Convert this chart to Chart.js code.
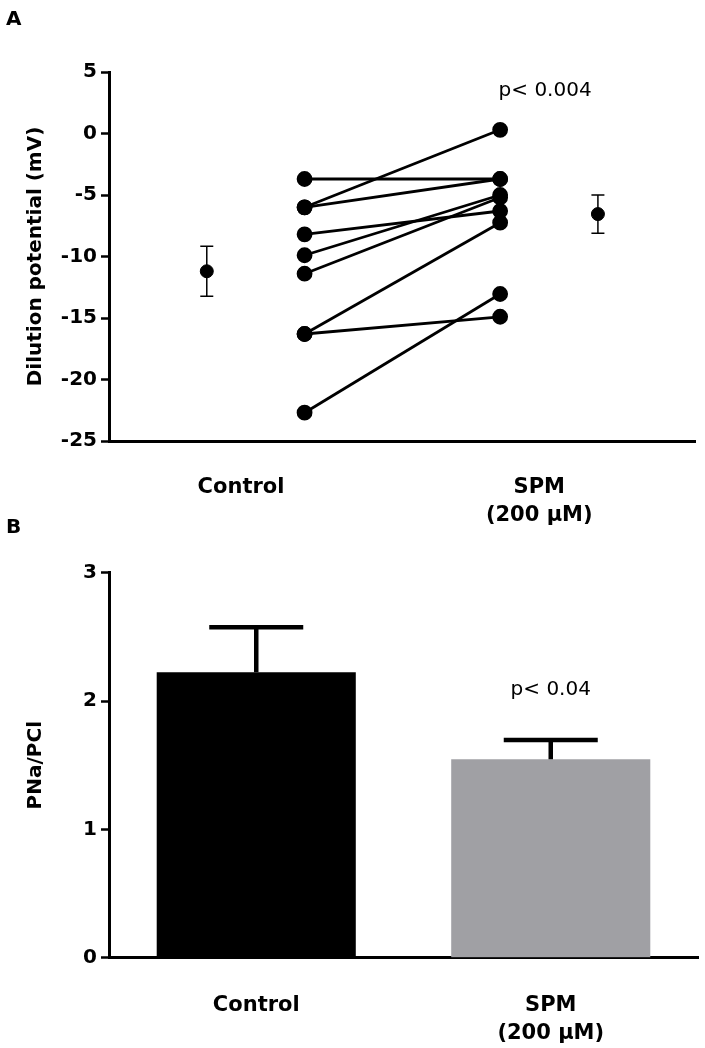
<!DOCTYPE html>
<html>
<head>
  <title>Dilution potential and PNa/PCl</title>
  <script src="https://cdn.jsdelivr.net/npm/chart.js"></script>
  <style>
    body {
      margin: 0;
      background: #fff;
      font-family: "DejaVu Sans", sans-serif;
    }
    .page {
      position: relative;
      width: 705px;
      height: 1048px;
    }
    .panel-label {
      position: absolute;
      left: 6px;
      font: bold 20px "DejaVu Sans", sans-serif;
      line-height: 24px;
    }
    #chartA { position: absolute; left: 0; top: 0; }
    #chartB { position: absolute; left: 0; top: 540px; }
  </style>
</head>
<body>
  <div class="page">
    <canvas id="chartA" width="705" height="540"></canvas>
    <canvas id="chartB" width="705" height="508"></canvas>
    <div class="panel-label" style="top:6px">A</div>
    <div class="panel-label" style="top:514px">B</div>
  </div>

  <script>
    // Panel A: paired dilution potentials (mV), one entry per experiment
    const controlValues = [-3.7, -6.0, -6.0, -8.2, -9.9, -11.4, -16.3, -16.3, -22.7];
    const spmValues     = [-3.7,  0.3, -3.7, -6.3, -5.0, -5.2,  -7.25, -14.9, -13.05];
    // mean ± SEM shown beside each group
    const meanValues = [-11.2, -6.55];
    const semValues  = [2.03, 1.56];
    // x positions on the linear axis: mean, paired points
    const meanX = [1, 5];
    const pairX = [2, 4];
    const xTickPositions = [1.35, 4.4];
    const xTickLabels = ['Control', ['SPM', '(200 µM)']];

    // Panel B: PNa/PCl
    const barLabels = ['Control', ['SPM', '(200 µM)']];
    const ratioMeans = [2.225, 1.546];
    const ratioSem   = [0.35, 0.15];
    const barColors  = ['#000000', '#a0a0a4'];

    Chart.defaults.font.family = '"DejaVu Sans", sans-serif';
    Chart.defaults.color = '#000';

    const tickFont = { size: 20, weight: 'bold' };
    const catFont = { size: 21, weight: 'bold', lineHeight: 1.333 };

    // error bars for the mean points in panel A
    const meanErrorBars = {
      id: 'meanErrorBars',
      afterDatasetsDraw(chart) {
        const xs = chart.scales.x, ys = chart.scales.y, ctx = chart.ctx;
        ctx.save();
        ctx.strokeStyle = '#000';
        ctx.lineWidth = 1.5;
        meanValues.forEach((m, i) => {
          const x = xs.getPixelForValue(meanX[i]);
          const top = ys.getPixelForValue(m + semValues[i]);
          const bot = ys.getPixelForValue(m - semValues[i]);
          ctx.beginPath();
          ctx.moveTo(x, top); ctx.lineTo(x, bot);
          ctx.moveTo(x - 6.5, top); ctx.lineTo(x + 6.5, top);
          ctx.moveTo(x - 6.5, bot); ctx.lineTo(x + 6.5, bot);
          ctx.stroke();
        });
        ctx.font = '20px "DejaVu Sans"';
        ctx.fillStyle = '#000';
        ctx.textAlign = 'center';
        ctx.textBaseline = 'middle';
        ctx.fillText('p< 0.004', xs.getPixelForValue(4.46), ys.getPixelForValue(3.5));
        ctx.restore();
      }
    };

    const pairDatasets = controlValues.map((c, i) => ({
      data: [{ x: pairX[0], y: c }, { x: pairX[1], y: spmValues[i] }],
      showLine: true,
      borderColor: '#000',
      borderWidth: 2.8,
      pointRadius: 6.5,
      pointBackgroundColor: '#000',
      pointBorderColor: '#000'
    }));

    new Chart(document.getElementById('chartA'), {
      type: 'scatter',
      data: {
        datasets: [
          ...pairDatasets,
          {
            data: meanX.map((x, i) => ({ x: x, y: meanValues[i] })),
            showLine: false,
            pointRadius: 6.5,
            pointBackgroundColor: '#000',
            pointBorderColor: '#000'
          }
        ]
      },
      options: {
        responsive: false,
        animation: false,
        layout: { padding: { top: 72, right: 8, left: 0, bottom: 0 } },
        plugins: { legend: { display: false }, tooltip: { enabled: false } },
        scales: {
          x: {
            type: 'linear',
            min: 0,
            max: 6,
            afterBuildTicks: axis => { axis.ticks = xTickPositions.map(v => ({ value: v })); },
            afterFit: axis => { axis.height = 99; },
            grid: { display: false },
            border: { display: true, width: 3, color: '#000' },
            ticks: {
              font: catFont,
              padding: 25,
              maxRotation: 0,
              autoSkip: false,
              callback: (v, i) => xTickLabels[i]
            }
          },
          y: {
            min: -25,
            max: 5,
            afterFit: axis => { axis.width = 109; },
            grid: { drawOnChartArea: false, tickLength: 8, tickWidth: 2.5, tickColor: '#000' },
            border: { display: true, width: 3, color: '#000' },
            ticks: { stepSize: 5, font: tickFont, padding: 4 },
            title: {
              display: true,
              text: 'Dilution potential (mV)',
              font: { size: 20, weight: 'bold' },
              padding: { top: 24, bottom: 0 }
            }
          }
        }
      },
      plugins: [meanErrorBars]
    });

    // upward SEM bars on the columns of panel B
    const barErrorBars = {
      id: 'barErrorBars',
      afterDatasetsDraw(chart) {
        const ys = chart.scales.y, ctx = chart.ctx;
        const meta = chart.getDatasetMeta(0);
        ctx.save();
        ctx.strokeStyle = '#000';
        ctx.lineWidth = 4.5;
        meta.data.forEach((bar, i) => {
          const x = bar.x;
          const base = ys.getPixelForValue(ratioMeans[i]);
          const top = ys.getPixelForValue(ratioMeans[i] + ratioSem[i]);
          ctx.beginPath();
          ctx.moveTo(x, base); ctx.lineTo(x, top);
          ctx.moveTo(x - 47, top); ctx.lineTo(x + 47, top);
          ctx.stroke();
        });
        ctx.font = '20px "DejaVu Sans"';
        ctx.fillStyle = '#000';
        ctx.textAlign = 'center';
        ctx.textBaseline = 'middle';
        ctx.fillText('p< 0.04', meta.data[1].x, ys.getPixelForValue(2.09));
        ctx.restore();
      }
    };

    new Chart(document.getElementById('chartB'), {
      type: 'bar',
      data: {
        labels: barLabels,
        datasets: [{
          data: ratioMeans,
          backgroundColor: barColors,
          borderWidth: 0,
          categoryPercentage: 1,
          barPercentage: 0.676
        }]
      },
      options: {
        responsive: false,
        animation: false,
        layout: { padding: { top: 32.7, right: 7, left: 0, bottom: 0 } },
        plugins: { legend: { display: false }, tooltip: { enabled: false } },
        scales: {
          x: {
            afterFit: axis => { axis.height = 90.3; },
            grid: { display: false },
            border: { display: true, width: 3, color: '#000' },
            ticks: { font: catFont, padding: 26, maxRotation: 0, autoSkip: false }
          },
          y: {
            min: 0,
            max: 3,
            afterFit: axis => { axis.width = 109; },
            grid: { drawOnChartArea: false, tickLength: 8, tickWidth: 2.5, tickColor: '#000' },
            border: { display: true, width: 3, color: '#000' },
            ticks: { stepSize: 1, font: tickFont, padding: 4 },
            title: {
              display: true,
              text: 'PNa/PCl',
              font: { size: 20, weight: 'bold' },
              padding: { top: 24, bottom: 0 }
            }
          }
        }
      },
      plugins: [barErrorBars]
    });
  </script>
</body>
</html>
